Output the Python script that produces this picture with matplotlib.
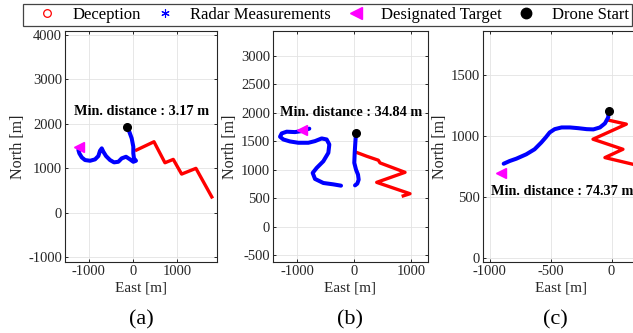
import matplotlib
matplotlib.use("Agg")
import matplotlib.pyplot as plt
from matplotlib.lines import Line2D

plt.rcParams['font.family'] = ['Liberation Serif', 'DejaVu Serif']
plt.rcParams['axes.unicode_minus'] = False

# ---------------- data ----------------
# Panel (a)
a_radar_x = [-142, -83, -29, 7, 7, 22, 67, 7, -67, -157, -254, -330, -427, -517, -607, -667, -703, -742, -780, -854, -966, -1079, -1153, -1207, -1229]
a_radar_y = [1921, 1822, 1673, 1484, 1336, 1223, 1169, 1146, 1200, 1259, 1223, 1146, 1133, 1185, 1275, 1372, 1448, 1394, 1275, 1200, 1169, 1185, 1245, 1336, 1410]
a_dec_x = [45, 472, 719, 906, 1094, 1416, 1791]
a_dec_y = [1394, 1597, 1124, 1200, 869, 998, 322]
a_start = (-142, 1921)
a_target = (-1207, 1484)
a_text = "Min. distance : 3.17 m"

# Panel (b)
b_radar1_x = [35, 23, 12, 5, 35, 70, 82, 58, 18]
b_radar1_y = [1650, 1474, 1298, 1122, 1004, 916, 828, 758, 727]
b_radar2_x = [-228, -363, -538, -684, -725, -655, -538, -450, -433, -480, -567, -684, -801, -977, -1123, -1240, -1298, -1268, -1181, -1035, -918, -830, -784]
b_radar2_y = [722, 745, 769, 840, 945, 1033, 1150, 1298, 1444, 1532, 1550, 1503, 1474, 1474, 1497, 1532, 1580, 1638, 1668, 1661, 1679, 1709, 1721]
b_dec_x = [18, 222, 427, 456, 895, 398, 982, 836]
b_dec_y = [1315, 1238, 1168, 1121, 956, 780, 581, 534]
b_start = (35, 1650)
b_target = (-904, 1693)
b_text = "Min. distance : 34.84 m"

# Panel (c)
c_radar_x = [-25, -28, -55, -96, -150, -205, -274, -342, -411, -468, -509, -542, -578, -633, -701, -783, -838, -887]
c_radar_y = [1210, 1150, 1101, 1068, 1052, 1054, 1062, 1068, 1068, 1054, 1027, 986, 945, 890, 849, 813, 794, 772]
c_dec_x = [-28, 121, -153, 93, -55, 177, 260]
c_dec_y = [1128, 1095, 972, 890, 822, 767, 745]
c_start = (-22, 1205)
c_target = (-912, 698)
c_text = "Min. distance : 74.37 m"

labels = ["Deception", "Radar Measurements", "Designated Target", "Drone Start"]

# ---------------- figure ----------------
W, H = 633, 333
fig = plt.figure(figsize=(W / 100, H / 100), dpi=100)

def px_axes(left, right, top, bottom):
    return fig.add_axes([left / W, 1 - bottom / H, (right - left) / W, (bottom - top) / H])

ax_a = px_axes(65, 217, 31, 262)
ax_b = px_axes(273, 428, 31, 262)
ax_c = px_axes(483, 639, 31, 262)

RED = '#ff0000'
BLUE = '#0000ff'
MAG = '#ff00ff'
TXT = '#262626'

def style(ax, xlim, ylim, xt, yt):
    ax.set_xlim(*xlim)
    ax.set_ylim(*ylim)
    ax.set_xticks(xt)
    ax.set_yticks(yt)
    ax.grid(True, color='#e3e3e3', lw=0.6)
    ax.set_axisbelow(True)
    ax.tick_params(direction='in', top=True, right=True, length=2.5, width=0.7,
                   labelsize=10.5, colors=TXT, pad=2)
    for s in ax.spines.values():
        s.set_color('#262626')
        s.set_linewidth(0.8)
    ax.set_xlabel("East [m]", fontsize=11, color=TXT, labelpad=3)
    ax.set_ylabel("North [m]", fontsize=11.5, color=TXT, labelpad=2)

def draw(ax, rx_list, ry_list, dx, dy, start, target, text, tpos):
    ax.plot(dx, dy, color=RED, lw=2.4, solid_capstyle='butt', zorder=3)
    for rx, ry in zip(rx_list, ry_list):
        ax.plot(rx, ry, color=BLUE, lw=2.9, solid_capstyle='round', zorder=4)
    ax.plot([target[0]], [target[1]], marker='<', color=MAG, ms=6.5, ls='none', zorder=5)
    ax.plot([start[0]], [start[1]], marker='o', color='black', ms=5.5, ls='none', zorder=6)
    ax.text(tpos[0], tpos[1], text, ha='center', va='center', fontsize=10.3,
            fontweight='bold', color='black', zorder=7)

style(ax_a, (-1530, 1890), (-1110, 4090), [-1000, 0, 1000], [-1000, 0, 1000, 2000, 3000, 4000])
draw(ax_a, [a_radar_x], [a_radar_y], a_dec_x, a_dec_y, a_start, a_target, a_text, (196, 2288))

style(ax_b, (-1421, 1298), (-616, 3433), [-1000, 0, 1000], [-500, 0, 500, 1000, 1500, 2000, 2500, 3000])
draw(ax_b, [b_radar1_x, b_radar2_x], [b_radar1_y, b_radar2_y], b_dec_x, b_dec_y, b_start, b_target, b_text, (-53, 2002))

style(ax_c, (-1057, 225), (-30, 1855), [-1000, -500, 0], [0, 500, 1000, 1500])
draw(ax_c, [c_radar_x], [c_radar_y], c_dec_x, c_dec_y, c_start, c_target, c_text, (-405, 547))

for ax, lab in zip([ax_a, ax_b, ax_c], ["(a)", "(b)", "(c)"]):
    pos = ax.get_position()
    fig.text(pos.x0 + pos.width / 2 if lab != "(c)" else 555 / W, 1 - 320 / H, lab,
             ha='center', va='center', fontsize=16, color='black')

handles = [
    Line2D([], [], marker='o', ls='none', mfc='none', mec=RED, ms=5.5, mew=0.9),
    Line2D([], [], marker=(6, 2, 0), ls='none', color=BLUE, ms=6, mew=0.8),
    Line2D([], [], marker='<', ls='none', color=MAG, ms=8.5),
    Line2D([], [], marker='o', ls='none', color='black', ms=7.5),
]
leg = fig.legend(handles, labels, loc='upper left', bbox_to_anchor=(22.7 / W, 1 - 4 / H),
                 ncol=4, fontsize=12, frameon=True, fancybox=False, framealpha=1,
                 edgecolor='#444444', borderaxespad=0, handlelength=2.5, handletextpad=0.28,
                 columnspacing=0.22, borderpad=0.18)
leg.get_frame().set_linewidth(0.9)

fig.savefig("out.png", dpi=100)
